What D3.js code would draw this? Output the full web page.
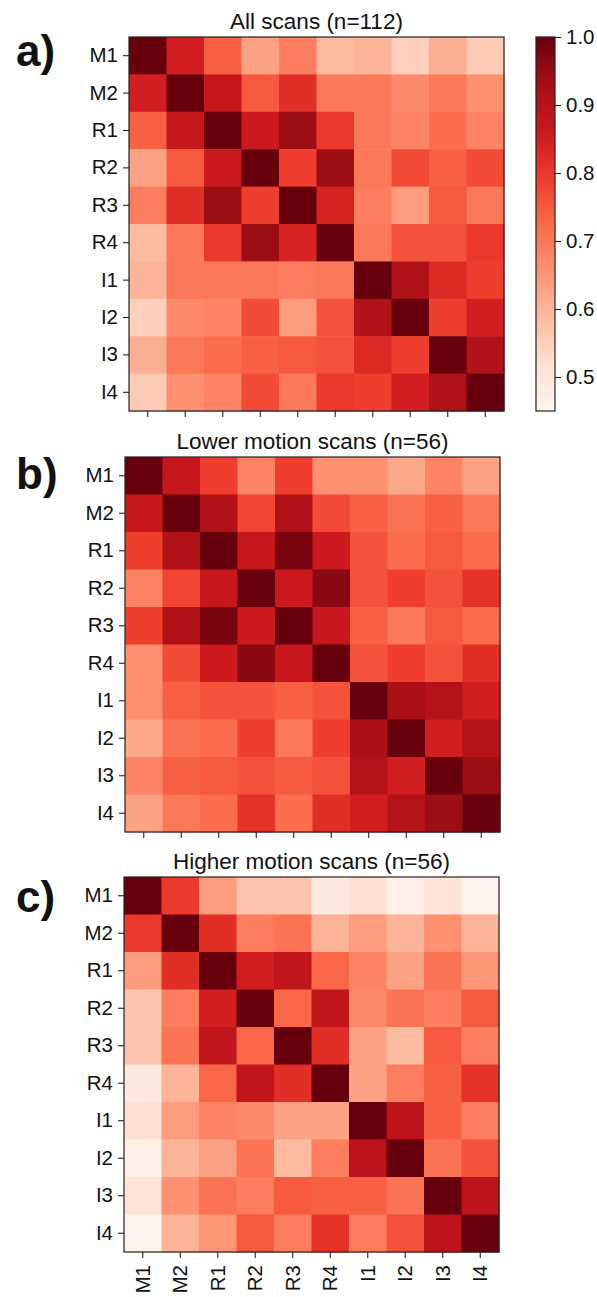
<!DOCTYPE html>
<html>
<head>
<meta charset="utf-8">
<script src="https://cdn.jsdelivr.net/npm/d3@7"></script>
<style>
  html, body { margin: 0; padding: 0; background: #fff; }
  svg { display: block; font-family: "Liberation Sans", Arial, sans-serif; }
</style>
</head>
<body>
<svg id="chart" width="597" height="1297"></svg>
<script>
// Channel labels (rows and columns of every correlation matrix)
const labels = ["M1", "M2", "R1", "R2", "R3", "R4", "I1", "I2", "I3", "I4"];

// Correlation matrix: all scans (n=112)
const allScans = [
  [1.00, 0.85, 0.74, 0.63, 0.69, 0.59, 0.60, 0.55, 0.61, 0.56],
  [0.85, 1.00, 0.87, 0.75, 0.82, 0.70, 0.70, 0.67, 0.70, 0.66],
  [0.74, 0.87, 1.00, 0.86, 0.94, 0.80, 0.70, 0.68, 0.72, 0.68],
  [0.63, 0.75, 0.86, 1.00, 0.79, 0.94, 0.70, 0.77, 0.74, 0.77],
  [0.69, 0.82, 0.94, 0.79, 1.00, 0.84, 0.69, 0.64, 0.75, 0.70],
  [0.59, 0.70, 0.80, 0.94, 0.84, 1.00, 0.70, 0.76, 0.76, 0.80],
  [0.60, 0.70, 0.70, 0.70, 0.69, 0.70, 1.00, 0.91, 0.83, 0.79],
  [0.55, 0.67, 0.68, 0.77, 0.64, 0.76, 0.91, 1.00, 0.79, 0.85],
  [0.61, 0.70, 0.72, 0.74, 0.75, 0.76, 0.83, 0.79, 1.00, 0.91],
  [0.56, 0.66, 0.68, 0.77, 0.70, 0.80, 0.79, 0.85, 0.91, 1.00]
];

// Correlation matrix: lower motion scans (n=56)
const lowerMotion = [
  [1.00, 0.87, 0.79, 0.68, 0.79, 0.66, 0.66, 0.62, 0.68, 0.63],
  [0.87, 1.00, 0.91, 0.78, 0.91, 0.77, 0.74, 0.71, 0.74, 0.70],
  [0.79, 0.91, 1.00, 0.87, 0.98, 0.86, 0.76, 0.72, 0.75, 0.72],
  [0.68, 0.78, 0.87, 1.00, 0.86, 0.96, 0.76, 0.79, 0.76, 0.81],
  [0.79, 0.91, 0.98, 0.86, 1.00, 0.87, 0.74, 0.70, 0.75, 0.72],
  [0.66, 0.77, 0.86, 0.96, 0.87, 1.00, 0.76, 0.79, 0.76, 0.82],
  [0.66, 0.74, 0.76, 0.76, 0.74, 0.76, 1.00, 0.92, 0.90, 0.85],
  [0.62, 0.71, 0.72, 0.79, 0.70, 0.79, 0.92, 1.00, 0.85, 0.90],
  [0.68, 0.74, 0.75, 0.76, 0.75, 0.76, 0.90, 0.85, 1.00, 0.94],
  [0.63, 0.70, 0.72, 0.81, 0.72, 0.82, 0.85, 0.90, 0.94, 1.00]
];

// Correlation matrix: higher motion scans (n=56)
const higherMotion = [
  [1.00, 0.80, 0.64, 0.57, 0.57, 0.49, 0.52, 0.47, 0.51, 0.46],
  [0.80, 1.00, 0.82, 0.69, 0.71, 0.60, 0.64, 0.60, 0.66, 0.60],
  [0.64, 0.82, 1.00, 0.85, 0.88, 0.73, 0.68, 0.63, 0.71, 0.65],
  [0.57, 0.69, 0.85, 1.00, 0.73, 0.88, 0.67, 0.71, 0.69, 0.75],
  [0.57, 0.71, 0.88, 0.73, 1.00, 0.82, 0.63, 0.59, 0.75, 0.69],
  [0.49, 0.60, 0.73, 0.88, 0.82, 1.00, 0.63, 0.69, 0.74, 0.81],
  [0.52, 0.64, 0.68, 0.67, 0.63, 0.63, 1.00, 0.89, 0.74, 0.69],
  [0.47, 0.60, 0.63, 0.71, 0.59, 0.69, 0.89, 1.00, 0.71, 0.76],
  [0.51, 0.66, 0.71, 0.69, 0.75, 0.74, 0.74, 0.71, 1.00, 0.89],
  [0.46, 0.60, 0.65, 0.75, 0.69, 0.81, 0.69, 0.76, 0.89, 1.00]
];

const titles = ["All scans (n=112)", "Lower motion scans (n=56)", "Higher motion scans (n=56)"];
const panelLetters = ["a)", "b)", "c)"];

// Shared colour range and colour-bar ticks
const colorDomain = [0.45, 1.0];
const colorbarTicks = [0.5, 0.6, 0.7, 0.8, 0.9, 1.0];

// ColorBrewer "Reds", linearly interpolated
const redsStops = ["#fff5f0", "#fee0d2", "#fcbba1", "#fc9272", "#fb6a4a",
                   "#ef3b2c", "#cb181d", "#a50f15", "#67000d"];
const color = d3.scaleLinear()
  .domain(redsStops.map((_, i) => colorDomain[0] + (colorDomain[1] - colorDomain[0]) * i / (redsStops.length - 1)))
  .range(redsStops)
  .interpolate(d3.interpolateRgb)
  .clamp(true);

const svg = d3.select("#chart");

// Layout of the three stacked heatmaps
const layout = [
  { x0: 129, x1: 504, y0: 37,  y1: 411,  letterY: 66,  showX: false },
  { x0: 125, x1: 500, y0: 457, y1: 832,  letterY: 489, showX: false },
  { x0: 124, x1: 499, y0: 877, y1: 1252, letterY: 912, showX: true }
];
const matrices = [allScans, lowerMotion, higherMotion];

const tickFont = 20.5;
const axisColor = "#222";
const textColor = "#111";

matrices.forEach((matrix, p) => {
  const L = layout[p];
  const x = d3.scaleBand().domain(labels).range([L.x0, L.x1]);
  const y = d3.scaleBand().domain(labels).range([L.y0, L.y1]);

  const g = svg.append("g");

  const cells = [];
  matrix.forEach((row, i) => row.forEach((v, j) => cells.push({ r: labels[i], c: labels[j], v })));

  g.selectAll("rect.cell").data(cells).join("rect")
    .attr("class", "cell")
    .attr("x", d => x(d.c))
    .attr("y", d => y(d.r))
    .attr("width", x.bandwidth() + 0.5)
    .attr("height", y.bandwidth() + 0.5)
    .attr("fill", d => color(d.v));

  // frame
  g.append("rect")
    .attr("x", L.x0).attr("y", L.y0)
    .attr("width", L.x1 - L.x0).attr("height", L.y1 - L.y0)
    .attr("fill", "none").attr("stroke", axisColor).attr("stroke-width", 1.2);

  // left axis
  const ay = g.append("g").attr("transform", `translate(${L.x0},0)`)
    .call(d3.axisLeft(y).tickSize(6).tickPadding(5));
  ay.select(".domain").remove();
  ay.selectAll("line").attr("stroke", axisColor).attr("stroke-width", 1.1);
  ay.selectAll("text").attr("font-size", tickFont).attr("fill", textColor)
    .attr("font-family", "'Liberation Sans', Arial, sans-serif");

  // bottom axis
  const ax = g.append("g").attr("transform", `translate(0,${L.y1})`)
    .call(d3.axisBottom(x).tickSize(6).tickPadding(5));
  ax.select(".domain").remove();
  ax.selectAll("line").attr("stroke", axisColor).attr("stroke-width", 1.1);
  if (L.showX) {
    ax.selectAll("text")
      .attr("font-size", tickFont).attr("fill", textColor)
      .attr("font-family", "'Liberation Sans', Arial, sans-serif")
      .attr("text-anchor", "end")
      .attr("dy", "0.35em")
      .attr("transform", "translate(0,5) rotate(-90)")
      .attr("x", -8).attr("y", 0);
  } else {
    ax.selectAll("text").remove();
  }

  // title
  g.append("text")
    .attr("x", (L.x0 + L.x1) / 2)
    .attr("y", L.y0 - 8)
    .attr("text-anchor", "middle")
    .attr("font-size", 22.5)
    .attr("fill", textColor)
    .text(titles[p]);

  // panel letter
  g.append("text")
    .attr("x", 16)
    .attr("y", L.letterY)
    .attr("font-size", 44)
    .attr("font-weight", "bold")
    .attr("fill", textColor)
    .text(panelLetters[p]);
});

// Colour bar next to the first heatmap
const cb = { x: 536, w: 19, y0: 37, y1: 411 };
const cbScale = d3.scaleLinear().domain(colorDomain).range([cb.y1, cb.y0]);

const grad = svg.append("defs").append("linearGradient")
  .attr("id", "cbGrad").attr("x1", 0).attr("y1", 1).attr("x2", 0).attr("y2", 0);
d3.range(0, 1.0001, 0.02).forEach(t => {
  const v = colorDomain[0] + t * (colorDomain[1] - colorDomain[0]);
  grad.append("stop").attr("offset", t).attr("stop-color", color(v));
});

svg.append("rect")
  .attr("x", cb.x).attr("y", cb.y0)
  .attr("width", cb.w).attr("height", cb.y1 - cb.y0)
  .attr("fill", "url(#cbGrad)")
  .attr("stroke", axisColor).attr("stroke-width", 1.2);

const cbAxis = svg.append("g").attr("transform", `translate(${cb.x + cb.w},0)`)
  .call(d3.axisRight(cbScale).tickValues(colorbarTicks).tickFormat(d3.format(".1f")).tickSize(6).tickPadding(5));
cbAxis.select(".domain").remove();
cbAxis.selectAll("line").attr("stroke", axisColor).attr("stroke-width", 1.1);
cbAxis.selectAll("text").attr("font-size", tickFont).attr("fill", textColor)
  .attr("font-family", "'Liberation Sans', Arial, sans-serif");
</script>
</body>
</html>
